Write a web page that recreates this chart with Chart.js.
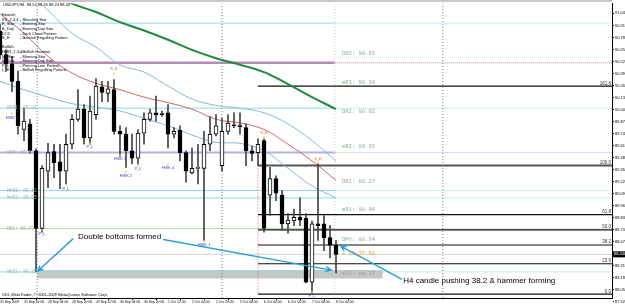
<!DOCTYPE html>
<html lang="en">
<head>
  <meta charset="UTF-8">
  <title>USDJPY H4</title>
  <style>
    html, body { margin: 0; padding: 0; background: #fff; }
    .chartBox { position: relative; width: 625px; height: 308px; }
  </style>
</head>
<body>
<div class="chartBox"><canvas id="myChart" width="625" height="308"></canvas></div>

<script src="https://cdn.jsdelivr.net/npm/chart.js/dist/chart.umd.min.js"></script>
<script>
  // H4 bars, 25 Sep 2009 .. 8 Oct 2009 00:00 (index = bar number)
  const opens  = [90.85, 90.60, 90.50, 90.31, 89.79, 89.85, 89.56, 88.72, 89.34, 89.55,
                  89.44, 89.34, 89.63, 89.90, 90.01, 89.70, 89.95, 90.25, 90.18, 90.22,
                  89.77, 89.74, 89.56, 89.48, 89.75, 89.90, 89.97, 89.96, 89.97, 89.74,
                  89.78, 89.54, 89.32, 89.37, 89.37, 89.63, 89.74, 89.40, 89.77, 89.84,
                  89.83, 89.81, 89.56, 89.54, 89.67, 89.08, 89.26, 89.08, 88.77, 88.80,
                  88.84, 88.83, 88.14, 88.77, 88.77, 88.62, 88.54];
  const highs  = [90.93, 90.65, 90.58, 90.42, 90.02, 89.90, 89.58, 89.40, 89.64, 89.63,
                  89.63, 89.74, 89.95, 90.22, 90.06, 90.15, 90.34, 90.31, 90.31, 90.33,
                  89.83, 89.81, 89.74, 89.79, 89.97, 90.01, 90.15, 89.99, 90.06, 89.81,
                  89.83, 89.56, 89.59, 89.63, 89.77, 89.93, 89.95, 89.91, 89.95, 89.97,
                  89.97, 89.85, 89.61, 89.69, 89.69, 89.38, 89.29, 89.13, 88.88, 88.93,
                  89.05, 88.88, 88.80, 89.42, 88.86, 88.75, 88.59];
  const lows   = [90.55, 90.42, 90.20, 89.74, 89.67, 89.53, 88.25, 88.68, 89.16, 89.27,
                  89.15, 89.20, 89.58, 89.88, 89.63, 89.63, 89.90, 90.09, 90.09, 89.74,
                  89.50, 89.38, 89.42, 89.42, 89.63, 89.88, 89.88, 89.93, 89.59, 89.70,
                  89.45, 89.22, 89.31, 89.20, 88.59, 89.56, 89.72, 89.34, 89.74, 89.81,
                  89.74, 89.40, 89.45, 89.40, 88.68, 88.86, 89.02, 88.70, 88.67, 88.75,
                  88.75, 88.13, 88.02, 88.59, 88.48, 88.40, 88.24];
  const closes = [90.60, 90.50, 90.31, 89.83, 89.88, 89.56, 88.72, 89.37, 89.54, 89.43,
                  89.34, 89.63, 89.90, 90.01, 89.70, 89.99, 90.26, 90.19, 90.23, 89.77,
                  89.74, 89.56, 89.48, 89.75, 89.90, 89.97, 89.95, 89.95, 89.74, 89.77,
                  89.54, 89.34, 89.37, 89.38, 89.63, 89.74, 89.83, 89.77, 89.86, 89.83,
                  89.82, 89.56, 89.53, 89.63, 88.72, 89.26, 89.10, 88.77, 88.81, 88.84,
                  88.81, 88.14, 88.77, 88.75, 88.62, 88.54, 88.44];

  // one time label every 4 bars
  const timeLabels = ['25 Sep 2009', '25 Sep 16:00', '28 Sep 04:00', '28 Sep 20:00', '29 Sep 12:00',
                      '30 Sep 04:00', '30 Sep 20:00', '1 Oct 12:00', '2 Oct 04:00', '2 Oct 20:00',
                      '5 Oct 08:00', '6 Oct 00:00', '6 Oct 16:00', '7 Oct 08:00', '8 Oct 00:00'];
  const priceTicks = [91.045, 90.915, 90.785, 90.655, 90.525, 90.395, 90.265, 90.135, 90.005,
                      89.875, 89.745, 89.615, 89.485, 89.355, 89.225, 89.095, 88.965, 88.835,
                      88.705, 88.575, 88.445, 88.315, 88.185, 88.055, 87.925];

  // moving averages, read every 4 bars
  const maBars   = [0, 4, 8, 12, 16, 20, 24, 28, 32, 36, 40, 44, 48, 52, 56];
  const maSlow   = [null, null, 91.27, 91.15, 91.06, 90.95, 90.86, 90.76, 90.65, 90.56, 90.49, 90.41, 90.28, 90.14, 90.01];
  const maMid    = [91.04, 90.83, 90.58, 90.40, 90.29, 90.22, 90.14, 90.08, 90.01, 89.90, 89.86, 89.79, 89.63, 89.45, 89.24];
  const maFastHi = [null, 91.32, 91.08, 90.83, 90.68, 90.49, 90.41, 90.26, 90.12, 90.05, 90.02, 89.97, 89.85, 89.67, 89.45];
  const maFastLo = [90.31, 90.22, 90.14, 90.07, 90.03, 89.99, 89.91, 89.83, 89.73, 89.65, 89.64, 89.56, 89.37, 89.18, 89.05];

  // weekly / monthly pivots
  const weekNames  = ['', '', 'WkR1: 90.01', 'WPP: 89.53', 'WkS1: 89.12', 'MnS1: 89.05', 'WS1: 88.73', 'WkS2: 88.25'];
  const weekPrices = [90.94, 90.51, 90.02, 89.54, 89.13, 89.05, 88.72, 88.25];
  // daily pivots
  const dayNames  = ['DR3', 'mR3', 'DR2', 'mR2', 'DR1', 'mR1', 'DPV', 'mS1'];
  const dayPrices = [90.65, 90.34, 90.02, 89.65, 89.27, 88.96, 88.64, 88.27];
  // fibonacci from the hammer low to the spike high
  const fibLevels = [0, 23.6, 38.2, 50, 61.8, 100, 161.8];
  const fibLow = 88.01, fibHigh = 89.40;
  // candle pattern tags
  const tagText  = ['S_E', 'S_E', 'S_E', 'P_L', 'P_L', 'P_L', 'P_L', 'P_L', 'HIKK 3', 'HIKK 2', 'HIKK 4', 'HIKK 1', 'HIKK 1'];
  const tagBar   = [19, 44, 53, 7, 11, 15, 23, 52, 20, 21, 28, 34, 2];
  const tagPrice = [90.44, 89.75, 89.47, 88.66, 89.15, 89.60, 89.36, 87.99, 89.47, 89.29, 89.37, 88.54, 89.92];
  const lastPrice = 88.44;

  const dayStart = 55.8, fibStart = 43;

  // ---- datasets ----
  const datasets = [];
  datasets.push({
    type: 'bar', data: opens.map((o, i) => ({ x: i, y: [lows[i], highs[i]] })),
    backgroundColor: '#444', barThickness: 1, grouped: false, order: 2
  });
  datasets.push({
    type: 'bar', data: opens.map((o, i) => ({ x: i, y: [o, closes[i]] })),
    backgroundColor: opens.map((o, i) => closes[i] >= o ? '#fff' : '#000'),
    borderColor: '#000', borderWidth: 1, borderSkipped: false, barThickness: 4,
    minBarLength: 1, grouped: false, order: 1
  });

  const line = (pts, color, width, dash, extra) => Object.assign({
    type: 'line', data: pts, borderColor: color, borderWidth: width, borderDash: dash || [],
    pointRadius: 0, fill: false, tension: 0, order: 10
  }, extra || {});

  // grey zone around WkS2
  datasets.push(line([{ x: 6.2, y: 88.27 }, { x: 63.8, y: 88.27 }], 'rgba(0,0,0,0)', 0, null,
    { fill: { value: 88.18 }, backgroundColor: '#c6c6c6', order: 20 }));

  const weekColors = ['#8fdbe3', '#b48cb8', '#8fdbe3', '#b4b4d8', '#8fdbe3', '#8fdbe3', '#b6dcb0', '#8fdbe3'];
  const weekWidths = [1, 2.5, 1, 2, 1, 1, 1, 1];
  weekPrices.forEach((p, k) => {
    datasets.push(line([{ x: 0, y: p }, { x: dayStart, y: p }], weekColors[k], weekWidths[k], null, { order: 15 }));
    datasets.push(line([{ x: dayStart, y: p }, { x: 102, y: p }], weekColors[k], 1, [1, 1], { order: 15 }));
  });
  // bid line
  datasets.push(line([{ x: 0, y: lastPrice }, { x: 102, y: lastPrice }], '#d4d4d4', 1, null, { order: 16 }));

  // fib lines
  fibLevels.forEach(l => {
    const p = fibLow + (fibHigh - fibLow) * l / 100;
    datasets.push(line([{ x: fibStart, y: p }, { x: 102, y: p }], l === 100 ? '#555' : '#111', l === 100 ? 2 : 1.2, null, { order: 9 }));
  });
  datasets.push(line([{ x: fibStart, y: fibHigh }, { x: fibStart, y: fibLow }], '#e06060', 1, [1, 2], { order: 9 }));

  // separators
  [6.2, 37, 73.8].forEach(v => datasets.push(line([{ x: v, y: 92 }, { x: v, y: 87 }], '#777', 1, [1, 2], { order: 12 })));
  datasets.push(line([{ x: dayStart, y: 92 }, { x: dayStart, y: 87 }], '#c8c8c8', 1, [1, 2], { order: 12 }));

  // moving averages
  const maPts = arr => maBars.map((b, k) => ({ x: b, y: arr[k] })).filter(p => p.y !== null);
  datasets.push(line(maPts(maSlow), '#1f8a3c', 2, null, { tension: 0.4, order: 5 }));
  datasets.push(line(maPts(maMid), '#c56a6a', 1, null, { tension: 0.4, order: 5 }));
  datasets.push(line(maPts(maFastHi), '#86b6e0', 1, null, { tension: 0.4, order: 5 }));
  datasets.push(line(maPts(maFastLo), '#86b6e0', 1, null, { tension: 0.4, order: 5 }));

  // ---- text and arrows drawn through the scales ----
  const legendRows = [
    ['Bearish', ''], ['SS_2,3,4', '- Shooting Star'], ['E_Star', '- Evening Star'], ['E_Doji', '- Evening Doji Star'],
    ['DCC', '- Dark Cloud Pattern'], ['S_E', '- Bearish Engulfing Pattern'], ['', ''],
    ['Bullish', ''], ['HMR_2,3,4', '- Bullish Hammer'], ['M_Star', '- Morning Star'], ['M_Doji', '- Morning Doji Star'],
    ['P_L', '- Piercing Line Pattern'], ['L_E', '- Bullish Engulfing Pattern']
  ];
  const notes = [
    { text: 'Double bottoms formed', x: 13, y: 88.63 },
    { text: 'H4 candle pushing 38.2 & hammer forming', x: 67.2, y: 88.15 }
  ];
  const arrows = [
    { from: [12.2, 88.61], to: [6.3, 88.26] },
    { from: [27.2, 88.60], to: [55.2, 88.27] },
    { from: [67, 88.17], to: [56.8, 88.53] }
  ];

  const overlay = {
    id: 'overlay',
    beforeDraw(chart) {
      const c = chart.ctx;
      c.save();
      c.fillStyle = '#fff';
      c.fillRect(0, 0, chart.width, chart.height);
      c.restore();
    },
    afterDatasetsDraw(chart) {
      const { ctx: c, scales: { x, y }, chartArea: a } = chart;
      c.save();
      c.fillStyle = '#c8c8c8';
      c.fillRect(0, 0, a.right, 2);

      // header + legend
      c.fillStyle = '#000';
      c.textBaseline = 'middle';
      c.font = '4px "Liberation Sans"';
      c.fillText('USDJPY,H4  88.54 88.59 88.24 88.44', 3, 5);
      legendRows.forEach((r, k) => {
        c.fillText(r[0], 2, 15 + k * 4.6);
        c.fillText(r[1], 20, 15 + k * 4.6);
      });

      // weekly labels on the left
      c.font = '4.5px "Liberation Mono"';
      c.fillStyle = '#a9a9a9';
      weekNames.forEach((t, k) => { if (t) c.fillText(t, 7, y.getPixelForValue(weekPrices[k])); });

      // daily pivot labels
      c.font = '5.5px "Liberation Mono"';
      c.textBaseline = 'top';
      dayNames.forEach((t, k) => {
        c.fillStyle = k === 7 ? '#9a9a9a' : '#8caf8c';
        c.fillText(t + ': ' + dayPrices[k].toFixed(2), x.getPixelForValue(57), y.getPixelForValue(dayPrices[k]) + 1);
      });
      c.fillStyle = '#e8a030';
      c.fillText('« 02:37:51', x.getPixelForValue(57), y.getPixelForValue(88.48));

      // fib labels
      c.font = '4.5px "Liberation Sans"';
      c.fillStyle = '#333';
      c.textAlign = 'right';
      c.textBaseline = 'bottom';
      fibLevels.forEach(l => {
        const p = fibLow + (fibHigh - fibLow) * l / 100;
        c.fillText(l.toFixed(1), a.right - 1, y.getPixelForValue(p) - 0.5);
      });

      // pattern tags
      c.textAlign = 'center';
      c.textBaseline = 'middle';
      c.font = '4px "Liberation Sans"';
      tagText.forEach((t, k) => {
        const px = x.getPixelForValue(tagBar[k]), py = y.getPixelForValue(tagPrice[k]);
        c.fillStyle = t === 'S_E' ? '#e06a30' : '#3a3ac8';
        c.fillText(t, px, py);
        c.fillStyle = '#f0c040';
        c.beginPath();
        c.arc(px, t === 'S_E' ? py + 4 : py - 4, 0.9, 0, Math.PI * 2);
        c.fill();
      });

      // annotations
      c.textAlign = 'left';
      c.fillStyle = '#000';
      c.font = '8px "Liberation Sans"';
      notes.forEach(n => c.fillText(n.text, x.getPixelForValue(n.x), y.getPixelForValue(n.y)));

      c.strokeStyle = '#2a9fd6';
      c.lineWidth = 1.4;
      arrows.forEach(ar => {
        const x0 = x.getPixelForValue(ar.from[0]), y0 = y.getPixelForValue(ar.from[1]);
        const x1 = x.getPixelForValue(ar.to[0]), y1 = y.getPixelForValue(ar.to[1]);
        const ang = Math.atan2(y1 - y0, x1 - x0);
        c.beginPath();
        c.moveTo(x0, y0); c.lineTo(x1, y1);
        c.moveTo(x1 - 6 * Math.cos(ang - 0.45), y1 - 6 * Math.sin(ang - 0.45));
        c.lineTo(x1, y1);
        c.lineTo(x1 - 6 * Math.cos(ang + 0.45), y1 - 6 * Math.sin(ang + 0.45));
        c.stroke();
      });

      c.fillStyle = '#000';
      c.font = '4px "Liberation Sans"';
      c.textBaseline = 'bottom';
      c.fillText('ODL MetaTrader, \u00a9 2001-2009 MetaQuotes Software Corp.', 2, a.bottom - 1);
      c.restore();
    },
    afterDraw(chart) {
      const { ctx: c, scales: { y }, chartArea: a } = chart;
      const py = y.getPixelForValue(lastPrice);
      c.save();
      c.fillStyle = '#000';
      c.fillRect(a.right + 1, py - 3, 12, 6);
      c.fillStyle = '#fff';
      c.font = '4px "Liberation Sans"';
      c.textBaseline = 'middle';
      c.fillText(lastPrice.toFixed(3), a.right + 2, py);
      c.restore();
    }
  };

  const config = {
    type: 'bar',
    data: { datasets },
    options: {
      responsive: false,
      devicePixelRatio: 1,
      animation: false,
      layout: { padding: { top: 2, left: 0, right: 0, bottom: 0 } },
      plugins: { legend: { display: false }, tooltip: { enabled: false } },
      scales: {
        x: {
          type: 'linear', min: 0, max: 102, offset: false,
          grid: { display: true, drawOnChartArea: false, tickLength: 2, color: '#000' },
          border: { display: true, color: '#000' },
          afterBuildTicks: s => { s.ticks = timeLabels.map((t, k) => ({ value: k * 4 })); },
          ticks: {
            autoSkip: false, maxRotation: 0, align: 'start', padding: 0,
            color: '#000', font: { size: 3.4, family: 'Liberation Sans' },
            callback: v => timeLabels[Math.round(v / 4)]
          },
          afterFit: s => { s.height = 10; }
        },
        y: {
          type: 'linear', position: 'right', min: 87.968, max: 91.153, beginAtZero: false,
          grid: { display: true, drawOnChartArea: false, tickLength: 2, color: '#000' },
          border: { display: true, color: '#000' },
          afterBuildTicks: s => { s.ticks = priceTicks.map(v => ({ value: v })); },
          ticks: {
            autoSkip: false, padding: 1, color: '#000',
            font: { size: 4, family: 'Liberation Sans' },
            callback: v => v.toFixed(3)
          },
          afterFit: s => { s.width = 13; }
        }
      }
    },
    plugins: [overlay]
  };

  const myChart = new Chart(document.getElementById('myChart'), config);
</script>
</body>
</html>
